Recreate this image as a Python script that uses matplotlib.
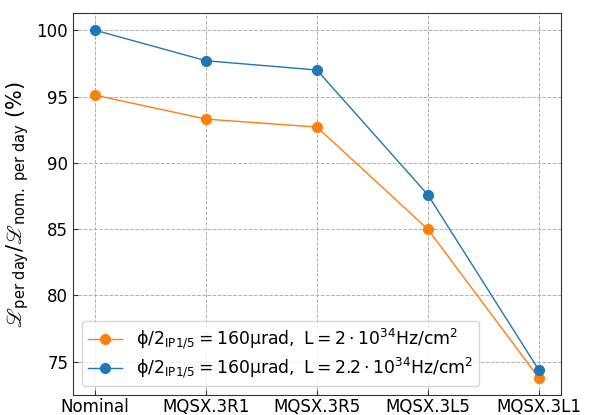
import matplotlib
matplotlib.use("Agg")
import matplotlib.pyplot as plt

categories = ["Nominal", "MQSX.3R1", "MQSX.3R5", "MQSX.3L5", "MQSX.3L1"]
lumi_2_0 = [95.1, 93.3, 92.7, 85.0, 73.8]
lumi_2_2 = [100.0, 97.7, 97.0, 87.6, 74.4]

label_a = r'$\mathrm{\phi/2_{IP1/5} = 160\mu rad,\ L = 2\cdot10^{34}Hz/cm^2}$'
label_b = r'$\mathrm{\phi/2_{IP1/5} = 160\mu rad,\ L = 2.2\cdot10^{34}Hz/cm^2}$'

fig = plt.figure(figsize=(5.96, 4.15), dpi=100)
ax = fig.add_axes([0.1225, 0.048, 0.8185, 0.921])
x = list(range(len(categories)))
ax.plot(x, lumi_2_0, 'o-', color='C1', lw=1, ms=7, label=label_a)
ax.plot(x, lumi_2_2, 'o-', color='C0', lw=1, ms=7, label=label_b)
ax.set_xticks(x)
ax.set_xticklabels(categories)
ax.tick_params(labelsize=12, direction='in', color='0.2')
ax.tick_params(axis='x', pad=2)
for s in ax.spines.values():
    s.set_color('0.2')
ax.set_yticks([75, 80, 85, 90, 95, 100])
ax.grid(True, ls='--', color='#b0b0b0', lw=0.7)
ax.set_ylabel(r'$\mathscr{L}_{\rm per\ day}/\mathscr{L}_{\rm nom.\ per\ day}$ (%)', fontsize=15)
ax.legend(loc='lower left', fontsize=12.4, labelspacing=0.25, borderpad=0.35)
fig.savefig("out.png", dpi=100)
